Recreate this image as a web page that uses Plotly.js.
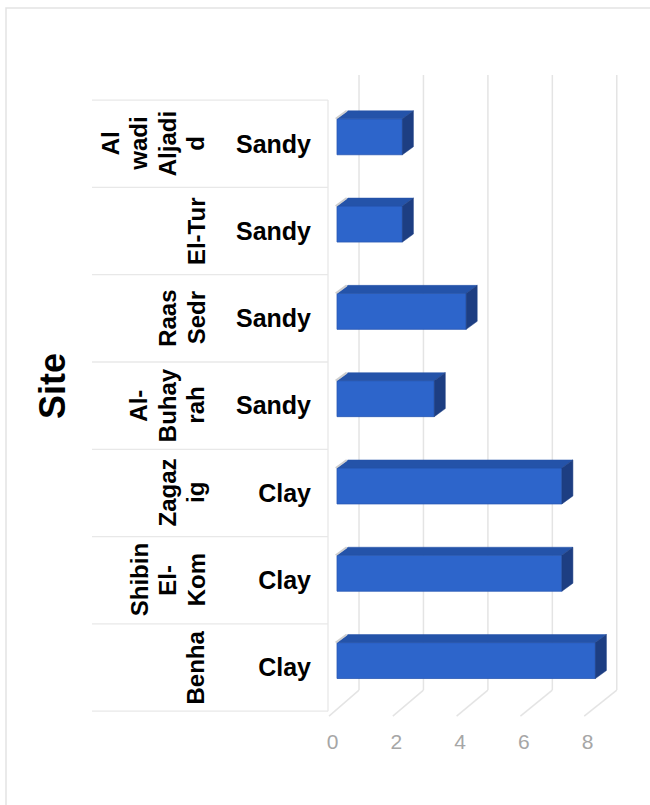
<!DOCTYPE html>
<html>
<head>
<meta charset="utf-8">
<script src="https://cdn.plot.ly/plotly-3.0.1.min.js"></script>
<style>html,body{margin:0;padding:0;background:#fff;}#chart{width:650px;height:805px;}</style>
</head>
<body>
<div id="chart"></div>
<script>
// ---- data ----
const sites = ['Benha', 'Shibin El-Kom', 'Zagazig', 'Al-Buhayrah', 'Raas Sedr', 'El-Tur', 'Al wadi Aljadid'];
const siteLabels = ['Benha', 'Shibin<br>El-<br>Kom', 'Zagaz<br>ig', 'Al-<br>Buhay<br>rah', 'Raas<br>Sedr', 'El-Tur', 'Al<br>wadi<br>Aljadi<br>d'];
const soils = ['Clay', 'Clay', 'Clay', 'Sandy', 'Sandy', 'Sandy', 'Sandy'];
const values = [8.1, 7.05, 7.05, 3.05, 4.05, 2.05, 2.05];
const xTicks = [0, 2, 4, 6, 8];
const axisTitle = 'Site';

// ---- layout geometry ----
const W = 650, H = 805;
const M = {l: 320, r: 10, t: 70, b: 85};
const plotW = W - M.l - M.r, plotH = H - M.t - M.b;
const pxX = px => (px - M.l) / plotW;          // pixel -> paper x
const pxY = py => (H - M.b - py) / plotH;      // pixel -> paper y
const xRange = [-0.533, 9.498];
const yRange = [-0.601, 6.845];
const labelShift = 0.141;                       // tick labels sit on the front plane

// 3D bar styling (in axis units)
const barW = 0.412, barShift = 0.08, depthX = 0.345, depthY = 0.092;
const pos = sites.map((s, i) => i);

const font = 'Liberation Sans, Arial, sans-serif';

// front faces
const front = {
  type: 'bar', orientation: 'h', x: values, y: pos,
  width: barW, offset: -barW / 2 + barShift,
  marker: {color: '#2d65cb', line: {color: '#2858b4', width: 0.8}},
  hoverinfo: 'x+text', text: sites, textposition: 'none'
};
// top & side faces
const topX = [], topY = [], sideX = [], sideY = [], edgeX = [], edgeY = [];
values.forEach((v, i) => {
  const t = i + barShift + barW / 2, b = i + barShift - barW / 2;
  topX.push(0, v, v + depthX, depthX, 0, null);
  topY.push(t, t, t + depthY, t + depthY, t, null);
  sideX.push(v, v + depthX, v + depthX, v, v, null);
  sideY.push(t, t + depthY, b + depthY, b, t, null);
  edgeX.push(-0.04, depthX - 0.04, null);
  edgeY.push(t, t + depthY, null);
});
const topFace = {type: 'scatter', mode: 'lines', x: topX, y: topY, fill: 'toself',
  fillcolor: '#2453a9', line: {color: '#2453a9', width: 0.5}, hoverinfo: 'skip'};
const sideFace = {type: 'scatter', mode: 'lines', x: sideX, y: sideY, fill: 'toself',
  fillcolor: '#1d3e82', line: {color: '#1d3e82', width: 0.5}, hoverinfo: 'skip'};
const leftEdge = {type: 'scatter', mode: 'lines', x: edgeX, y: edgeY,
  line: {color: '#cfcfcf', width: 2}, hoverinfo: 'skip'};
const labelAxisTrace = {type: 'scatter', x: [], y: [], xaxis: 'x2', yaxis: 'y', hoverinfo: 'skip'};

// ---- decorations: frame, table lines, back wall grid & floor ----
const gridC = '#e4e4e4';
const shapes = [];
shapes.push({type: 'rect', xref: 'paper', yref: 'paper', x0: pxX(6), y0: pxY(8), x1: pxX(760), y1: pxY(900),
  line: {color: '#e3e3e3', width: 1.5}, layer: 'below'});
for (let k = 0; k <= sites.length; k++) {
  shapes.push({type: 'line', xref: 'paper', yref: 'y', x0: pxX(92), x1: pxX(328), y0: k - 0.5, y1: k - 0.5,
    line: {color: '#e8e8e8', width: 1.3}, layer: 'below'});
}
shapes.push({type: 'line', xref: 'paper', yref: 'y', x0: pxX(328), x1: pxX(328), y0: -0.5, y1: sites.length - 0.5,
  line: {color: '#e8e8e8', width: 1.3}, layer: 'below'});
const backX = v => 0.69 + 1.01 * v, frontX = v => -0.25 + v;
const wallTop = 6.787, wallBottom = -0.258, floorFront = -0.556;
xTicks.forEach(v => {
  shapes.push({type: 'line', xref: 'x', yref: 'y', x0: backX(v), x1: backX(v), y0: wallBottom, y1: wallTop,
    line: {color: gridC, width: 1.5}, layer: 'below'});
  shapes.push({type: 'line', xref: 'x', yref: 'y', x0: frontX(v), x1: backX(v), y0: floorFront, y1: wallBottom,
    line: {color: gridC, width: 1.5}, layer: 'below'});
});

// ---- site labels (rotated, one annotation per wrapped line) ----
const annotations = [];
const linePitch = 28.5, lastLineX = 196;
siteLabels.forEach((lab, i) => {
  const lines = lab.split('<br>');
  const n = lines.length;
  lines.forEach((ln, k) => {
    annotations.push({
      xref: 'paper', yref: 'y', x: pxX(lastLineX - (n - 1 - k) * linePitch), y: i,
      text: ln, textangle: -90, showarrow: false, xanchor: 'center', yanchor: 'middle',
      font: {family: font, size: 24, color: '#000', weight: 700}
    });
  });
});
annotations.push({
  xref: 'paper', yref: 'paper', x: pxX(52), y: pxY(386), text: axisTitle, textangle: -90,
  showarrow: false, xanchor: 'center', yanchor: 'middle',
  font: {family: font, size: 36, color: '#000', weight: 700}
});

const layout = {
  width: W, height: H, margin: M,
  paper_bgcolor: '#ffffff', plot_bgcolor: 'rgba(0,0,0,0)',
  showlegend: false, bargap: 0,
  xaxis: {range: xRange, showticklabels: false, showgrid: false, zeroline: false, showline: false, ticks: '', fixedrange: true},
  xaxis2: {overlaying: 'x', anchor: 'y', side: 'bottom', range: [xRange[0] + labelShift, xRange[1] + labelShift],
    tickvals: xTicks, showgrid: false, zeroline: false, showline: false, ticks: '',
    tickfont: {family: font, size: 21, color: '#a6a6a6'}, ticklabelstandoff: 7, fixedrange: true},
  yaxis: {range: yRange, tickvals: pos, ticktext: soils, showgrid: false, zeroline: false, showline: false, ticks: '',
    tickfont: {family: font, size: 25, color: '#000', weight: 700}, ticklabelstandoff: 8, fixedrange: true},
  shapes: shapes, annotations: annotations
};

Plotly.newPlot('chart', [front, topFace, sideFace, leftEdge, labelAxisTrace], layout, {displayModeBar: false, staticPlot: true});
</script>
</body>
</html>
